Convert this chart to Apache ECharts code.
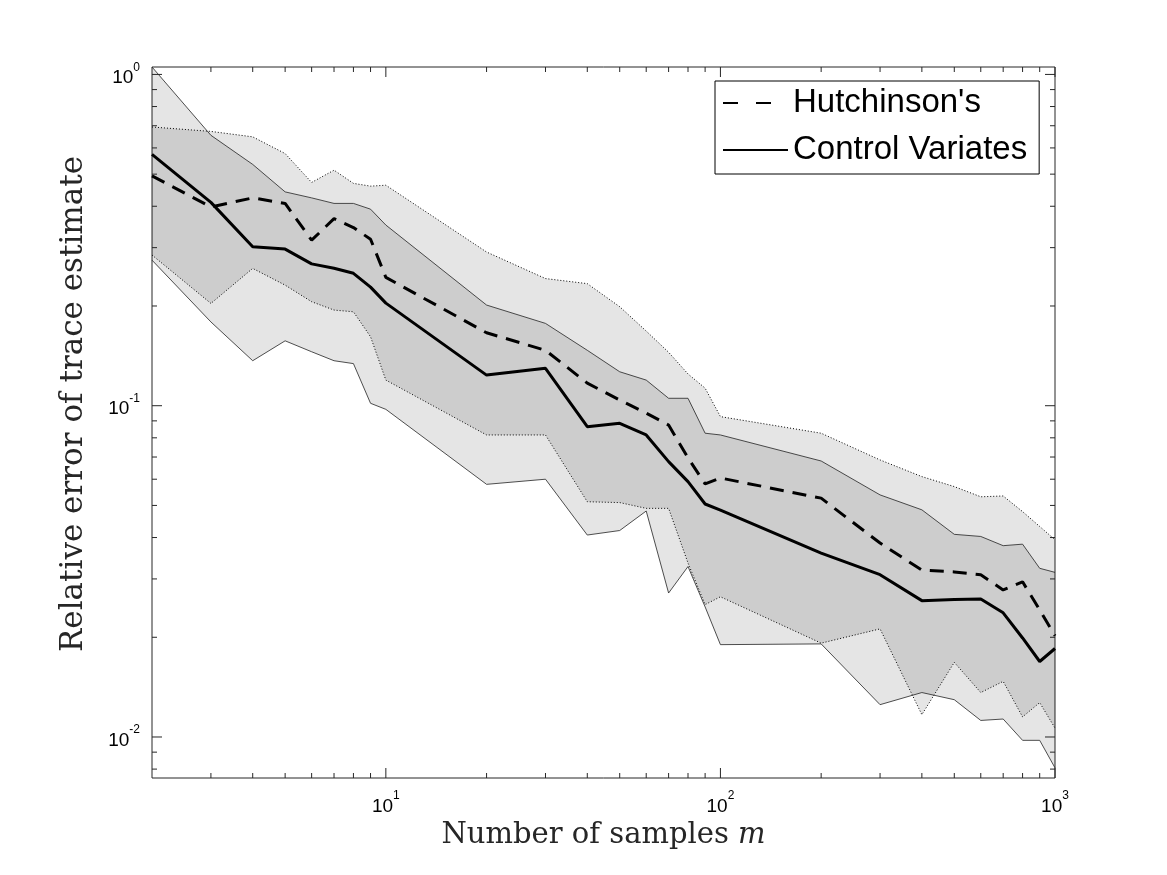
<!DOCTYPE html>
<html>
<head>
<meta charset="utf-8">
<title>Relative error of trace estimate</title>
<script src="https://cdn.jsdelivr.net/npm/echarts@6.0.0/dist/echarts.min.js"></script>
<style>
	html,body{margin:0;padding:0;background:#fff;}
	#main{width:1167px;height:875px;}
</style>
</head>
<body>
<div id="main"></div>
<script>
//样本数 m
var samples=[2,3,4,5,6,7,8,9,10,20,30,40,50,60,70,80,90,100,200,300,400,500,600,700,800,900,1000];
//Hutchinson 中位数 (虚线)
var hutchMedian=[0.494,0.398,0.424,0.408,0.316,0.367,0.345,0.318,0.244,0.166,0.147,0.117,0.104,0.095,0.0874,0.0696,0.0581,0.0605,0.0526,0.0385,0.0319,0.0315,0.0309,0.0278,0.0294,0.0242,0.0202];
//Control Variates 中位数 (粗实线)
var cvMedian=[0.574,0.411,0.302,0.297,0.268,0.260,0.251,0.228,0.204,0.1237,0.1297,0.0864,0.0885,0.0816,0.0678,0.059,0.0505,0.0484,0.0359,0.0309,0.0258,0.0260,0.0261,0.0237,0.0199,0.0169,0.0185];
//细实线区间
var solidUpper=[1.053,0.655,0.535,0.442,0.424,0.408,0.408,0.392,0.351,0.2013,0.1772,0.147,0.1266,0.1195,0.1053,0.1053,0.0826,0.0816,0.0681,0.0538,0.0485,0.0409,0.0403,0.0378,0.0382,0.0323,0.0314];
var solidLower=[0.275,0.179,0.1367,0.157,0.1455,0.1367,0.134,0.1017,0.0975,0.0579,0.060,0.0407,0.042,0.0481,0.0272,0.0327,0.0247,0.0190,0.0191,0.01252,0.01362,0.01296,0.01122,0.01133,0.00977,0.00977,0.00807];
//点线区间
var dottedUpper=[0.694,0.673,0.648,0.577,0.472,0.514,0.469,0.460,0.463,0.291,0.242,0.2336,0.199,0.168,0.145,0.1247,0.113,0.0927,0.0826,0.0686,0.0611,0.057,0.0531,0.0534,0.0479,0.0432,0.0394];
var dottedLower=[0.285,0.2036,0.2597,0.2312,0.206,0.1944,0.1921,0.1615,0.1195,0.0816,0.0816,0.0513,0.051,0.049,0.049,0.0335,0.0251,0.0265,0.0192,0.0212,0.01168,0.0168,0.01362,0.01472,0.0115,0.0127,0.01064];
//刻度
var xMajorTicks=[10,100,1000];
var xMinorTicks=[3,4,5,6,7,8,9,20,30,40,50,60,70,80,90,200,300,400,500,600,700,800,900];
var yMajorTicks=[0.01,0.1,1];
var yMinorTicks=[0.008,0.009,0.02,0.03,0.04,0.05,0.06,0.07,0.08,0.09,0.2,0.3,0.4,0.5,0.6,0.7,0.8,0.9];

var xMin=2, xMax=1000, yMin=0.00752, yMax=1.053;
var axisColor='#262626';

function pairs(ys){
	var out=[];
	for(var i=0;i<samples.length;i++){
		out.push([samples[i],ys[i]]);
	}
	return out;
}

//阴影区域: 只在第一个数据项画整个多边形
function bandSeries(lo,hi){
	var data=[];
	for(var i=0;i<samples.length;i++){
		data.push([samples[i],lo[i],hi[i]]);
	}
	return {
		type:'custom',
		silent:true,
		z:1,
		encode:{x:0,y:[1,2]},
		data:data,
		renderItem:function(params,api){
			if(params.dataIndex!==0) return;
			var pts=[];
			for(var i=0;i<samples.length;i++) pts.push(api.coord([samples[i],hi[i]]));
			for(var j=samples.length-1;j>=0;j--) pts.push(api.coord([samples[j],lo[j]]));
			return {type:'polygon',shape:{points:pts},style:{fill:'rgba(0,0,0,0.1)'}};
		}
	};
}

//向内的刻度线 (四条边都有)
function tickSeries(dim,values,len){
	var data=[];
	for(var i=0;i<values.length;i++){
		data.push(dim==='x'?[values[i],yMin]:[xMin,values[i]]);
	}
	return {
		type:'custom',
		silent:true,
		clip:false,
		z:10,
		data:data,
		renderItem:function(params,api){
			var st={stroke:axisColor,lineWidth:1};
			if(dim==='x'){
				var v=api.value(0);
				var a=api.coord([v,yMin]), b=api.coord([v,yMax]);
				return {type:'group',children:[
					{type:'line',shape:{x1:a[0],y1:a[1],x2:a[0],y2:a[1]-len},style:st},
					{type:'line',shape:{x1:b[0],y1:b[1],x2:b[0],y2:b[1]+len},style:st}
				]};
			}
			var w=api.value(1);
			var c=api.coord([xMin,w]), d=api.coord([xMax,w]);
			return {type:'group',children:[
				{type:'line',shape:{x1:c[0],y1:c[1],x2:c[0]+len,y2:c[1]},style:st},
				{type:'line',shape:{x1:d[0],y1:d[1],x2:d[0]-len,y2:d[1]},style:st}
			]};
		}
	};
}

function lineSeries(name,ys,style,z){
	return {
		name:name,
		type:'line',
		data:pairs(ys),
		symbol:'none',
		showSymbol:false,
		silent:true,
		z:z,
		itemStyle:{color:'#000'},
		lineStyle:style
	};
}

//10 的幂标签
function powLabel(v){
	var e=Math.log(v)/Math.LN10;
	var r=Math.round(e);
	if(Math.abs(e-r)>1e-6) return '';
	return '{b|10}{s|'+r+'}';
}
var labelRich={
	b:{fontFamily:'Liberation Sans',fontSize:19,color:'#000',lineHeight:26,verticalAlign:'bottom'},
	s:{fontFamily:'Liberation Sans',fontSize:12,color:'#000',lineHeight:26,verticalAlign:'top'}
};

var myChart=echarts.init(document.getElementById('main'),null,{renderer:'canvas'});
var option={
	backgroundColor:'#fff',
	animation:false,
	grid:{left:152,top:67,width:903,height:711,show:true,borderColor:axisColor,borderWidth:1,backgroundColor:'#fff'},
	legend:{
		data:[
			{name:"Hutchinson's",lineStyle:{type:[15,18]}},
			{name:'Control Variates'}
		],
		left:715,
		top:81,
		orient:'vertical',
		align:'left',
		itemWidth:65,
		itemHeight:12,
		itemGap:7,
		padding:[2,12,4,7],
		borderColor:'#000',
		borderWidth:1,
		backgroundColor:'#fff',
		selectedMode:false,
		itemStyle:{opacity:0},
		textStyle:{fontFamily:'Liberation Sans',fontSize:33,color:'#000',lineHeight:40}
	},
	xAxis:{
		type:'log',
		min:xMin,
		max:xMax,
		name:'Number of samples {i|m}',
		nameLocation:'middle',
		nameGap:42,
		nameTextStyle:{fontFamily:'DejaVu Serif',fontSize:29,color:'#262626',lineHeight:30,
			rich:{i:{fontFamily:'DejaVu Serif',fontStyle:'italic',fontSize:29,color:'#262626',lineHeight:30}}},
		axisLine:{show:false},
		axisTick:{show:false},
		splitLine:{show:false},
		minorTick:{show:false},
		axisLabel:{margin:12,formatter:powLabel,rich:labelRich,showMinLabel:false}
	},
	yAxis:{
		type:'log',
		min:yMin,
		max:yMax,
		name:'Relative error of trace estimate',
		nameLocation:'middle',
		nameGap:63,
		nameRotate:90,
		nameTextStyle:{fontFamily:'DejaVu Serif',fontSize:31,color:'#262626',lineHeight:30,padding:[0,0,0,37]},
		axisLine:{show:false},
		axisTick:{show:false},
		splitLine:{show:false},
		minorTick:{show:false},
		axisLabel:{margin:12,formatter:powLabel,rich:labelRich,showMinLabel:false,showMaxLabel:false}
	},
	series:[
		bandSeries(solidLower,solidUpper),
		bandSeries(dottedLower,dottedUpper),
		lineSeries('solidUpper',solidUpper,{color:'#222',width:0.8,type:'solid'},3),
		lineSeries('solidLower',solidLower,{color:'#222',width:0.8,type:'solid'},3),
		lineSeries('dottedUpper',dottedUpper,{color:'#000',width:1,type:[1,2]},3),
		lineSeries('dottedLower',dottedLower,{color:'#000',width:1,type:[1,2]},3),
		lineSeries("Hutchinson's",hutchMedian,{color:'#000',width:3,type:[14,9]},5),
		lineSeries('Control Variates',cvMedian,{color:'#000',width:3,type:'solid'},5),
		tickSeries('x',xMajorTicks,10),
		tickSeries('x',xMinorTicks,5),
		tickSeries('y',yMajorTicks,10),
		tickSeries('y',yMinorTicks,5)
	]
};
myChart.setOption(option);
</script>
</body>
</html>
